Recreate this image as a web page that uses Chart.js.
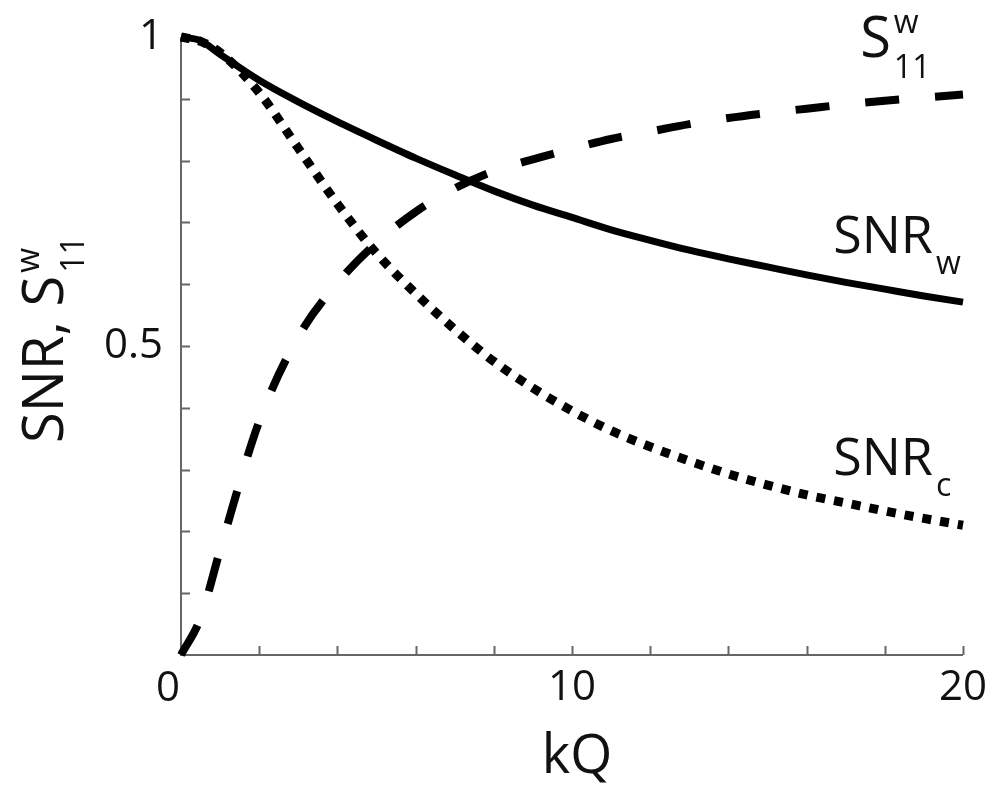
<!DOCTYPE html>
<html lang="en">
<head>
<meta charset="UTF-8">
<title>SNR and S11 vs kQ</title>
<script src="https://cdn.jsdelivr.net/npm/chart.js"></script>
<style>
  html, body { margin: 0; padding: 0; background: #fff; }
  #wrap { width: 994px; height: 785px; }
</style>
</head>
<body>
<div id="wrap"><canvas id="snrChart" width="994" height="785"></canvas></div>
<script>
// values
const kq   = [0, 0.5, 1, 2, 3, 4, 5, 6, 7, 8, 9, 10, 11, 12, 13, 14, 15, 16, 17, 18, 19, 20];
const snrW = [1.0, 0.994, 0.972, 0.93, 0.895, 0.863, 0.833, 0.804, 0.777, 0.751, 0.728, 0.708, 0.688, 0.671, 0.655, 0.641, 0.628, 0.615, 0.603, 0.592, 0.581, 0.571];
const snrC = [1.0, 0.993, 0.975, 0.91, 0.82, 0.73, 0.65, 0.585, 0.527, 0.475, 0.432, 0.395, 0.363, 0.337, 0.314, 0.293, 0.275, 0.259, 0.246, 0.233, 0.221, 0.21];
const s11w = [0, 0.06, 0.17, 0.378, 0.515, 0.602, 0.667, 0.717, 0.755, 0.783, 0.802, 0.819, 0.835, 0.847, 0.859, 0.869, 0.877, 0.884, 0.891, 0.897, 0.902, 0.907];
const xTickLabels = [0, 10, 20];
const yTickLabels = [0.5, 1];

const FONT = "'Open Sans', 'Noto Sans', sans-serif";
const AXIS_COLOR = '#666';

function pts(ys) {
    return kq.map((x, i) => ({ x: x, y: ys[i] }));
}

// text with a sub- and/or superscript, drawn from (x, y) baseline
function richLabel(ctx, x, y, main, sub, sup, size, subSize) {
    ctx.font = size + 'px ' + FONT;
    ctx.textAlign = 'left';
    ctx.textBaseline = 'alphabetic';
    ctx.fillText(main, x, y);
    const w = ctx.measureText(main).width;
    ctx.font = subSize + 'px ' + FONT;
    if (sub) ctx.fillText(sub, x + w + 3, y + 21);
    if (sup) ctx.fillText(sup, x + w + 3, y - 24);
}

const axesPlugin = {
    id: 'axesPlugin',
    beforeDatasetsDraw(chart) {
        const ctx = chart.ctx;
        const xs = chart.scales.x, ys = chart.scales.y;
        const a = chart.chartArea;
        ctx.save();
        ctx.strokeStyle = AXIS_COLOR;
        ctx.lineWidth = 2;
        ctx.beginPath();
        ctx.moveTo(a.left, a.top);
        ctx.lineTo(a.left, a.bottom);
        ctx.lineTo(a.right, a.bottom);
        ctx.stroke();
        // inward tick marks
        ctx.beginPath();
        xs.ticks.forEach(t => {
            if (t.value <= 0) return;
            const px = Math.round(xs.getPixelForValue(t.value)) + 0.5;
            ctx.moveTo(px, a.bottom);
            ctx.lineTo(px, a.bottom - 9);
        });
        ys.ticks.forEach(t => {
            if (t.value <= 0.001 || t.value >= 0.999) return;
            const py = Math.round(ys.getPixelForValue(t.value)) + 0.5;
            ctx.moveTo(a.left, py);
            ctx.lineTo(a.left + 9, py);
        });
        ctx.stroke();
        ctx.restore();
    },
    afterDraw(chart) {
        const ctx = chart.ctx;
        const xs = chart.scales.x, ys = chart.scales.y;
        const a = chart.chartArea;
        ctx.save();
        ctx.fillStyle = '#111';

        // shared origin label, sits a little left of the corner
        ctx.font = '42px ' + FONT;
        ctx.textAlign = 'center';
        ctx.textBaseline = 'top';
        ctx.fillText(String(xTickLabels[0]), xs.getPixelForValue(xTickLabels[0]) - 13, a.bottom + 13);

        // x axis title
        ctx.font = '54px ' + FONT;
        ctx.textAlign = 'center';
        ctx.textBaseline = 'alphabetic';
        ctx.fillText('kQ', (a.left + a.right) / 2 + 5, 773);

        // y axis title, rotated
        ctx.save();
        ctx.translate(63, 443);
        ctx.rotate(-Math.PI / 2);
        richLabel(ctx, 0, 0, 'SNR, S', '11', 'w', 56, 32);
        ctx.restore();

        // curve labels
        richLabel(ctx, xs.getPixelForValue(17.37), ys.getPixelForValue(0.968), 'S', '11', 'w', 56, 32);
        richLabel(ctx, xs.getPixelForValue(16.68), ys.getPixelForValue(0.650), 'SNR', 'w', null, 52, 32);
        richLabel(ctx, xs.getPixelForValue(16.68), ys.getPixelForValue(0.291), 'SNR', 'c', null, 52, 32);
        ctx.restore();
    }
};

new Chart(document.getElementById('snrChart'), {
    type: 'line',
    data: {
        datasets: [
            {
                label: 'SNR_c',
                data: pts(snrC),
                borderColor: '#000',
                borderWidth: 9,
                borderDash: [9, 9],
                borderCapStyle: 'butt',
                cubicInterpolationMode: 'monotone',
                pointRadius: 0
            },
            {
                label: 'S11w',
                data: pts(s11w),
                borderColor: '#000',
                borderWidth: 8,
                borderDash: [34, 36],
                borderCapStyle: 'butt',
                cubicInterpolationMode: 'monotone',
                pointRadius: 0
            },
            {
                label: 'SNR_w',
                data: pts(snrW),
                borderColor: '#000',
                borderWidth: 7,
                cubicInterpolationMode: 'monotone',
                pointRadius: 0
            }
        ]
    },
    options: {
        responsive: false,
        animation: false,
        clip: false,
        layout: { padding: { left: 0, top: 37, right: 31, bottom: 0 } },
        plugins: { legend: { display: false }, tooltip: { enabled: false } },
        scales: {
            x: {
                type: 'linear',
                min: 0, max: 20,
                grid: { display: false, drawTicks: false },
                border: { display: false },
                afterFit: s => { s.height = 130; s.paddingLeft = 0; s.paddingRight = 0; },
                ticks: {
                    stepSize: 2,
                    padding: 8,
                    color: '#111',
                    maxRotation: 0,
                    autoSkip: false,
                    font: { family: FONT, size: 42 },
                    // the 0 is drawn by the plugin, nudged left
                    callback: v => (v !== 0 && xTickLabels.includes(v)) ? String(v) : ''
                }
            },
            y: {
                min: 0, max: 1,
                grid: { display: false, drawTicks: false },
                border: { display: false },
                afterFit: s => { s.width = 181; s.paddingTop = 0; s.paddingBottom = 0; },
                ticks: {
                    stepSize: 0.1,
                    padding: 18,
                    color: '#111',
                    autoSkip: false,
                    font: { family: FONT, size: 42 },
                    callback: v => yTickLabels.some(t => Math.abs(t - v) < 1e-6) ? String(Math.round(v * 10) / 10) : ''
                }
            }
        }
    },
    plugins: [axesPlugin]
});
</script>
</body>
</html>
